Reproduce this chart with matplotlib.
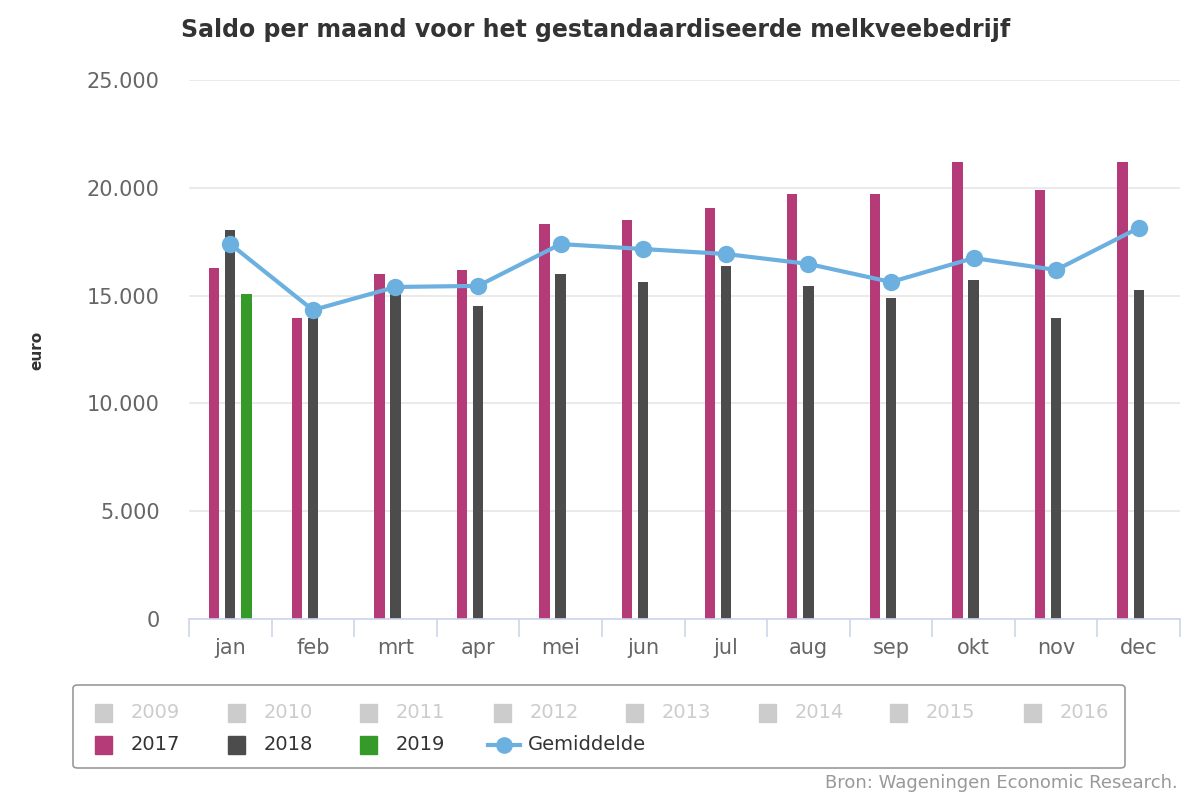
import numpy as np
import matplotlib.pyplot as plt
from matplotlib.patches import Rectangle, FancyBboxPatch
from matplotlib.lines import Line2D
from matplotlib.ticker import FuncFormatter, FixedLocator

plt.rcParams['font.family'] = ['DejaVu Sans']

months = ['jan', 'feb', 'mrt', 'apr', 'mei', 'jun', 'jul', 'aug', 'sep', 'okt', 'nov', 'dec']
saldo_2017 = [16300, 13960, 16000, 16190, 18320, 18510, 19060, 19710, 19710, 21200, 19900, 21200]
saldo_2018 = [18040, 13960, 15120, 14520, 16000, 15630, 16370, 15450, 14890, 15720, 13960, 15260]
saldo_2019 = [15070, np.nan, np.nan, np.nan, np.nan, np.nan, np.nan, np.nan, np.nan, np.nan, np.nan, np.nan]
gemiddelde = [17390, 14330, 15400, 15450, 17390, 17160, 16930, 16470, 15630, 16740, 16190, 18140]
hidden_years = ['2009', '2010', '2011', '2012', '2013', '2014', '2015', '2016']

c17 = '#b43a78'
c18 = '#4c4c4c'
c19 = '#369a2b'
cavg = '#6cb0e0'

fig = plt.figure(figsize=(12, 8), dpi=100)
ax = fig.add_axes([189 / 1200, 1 - 619 / 800, (1180 - 189) / 1200, (619 - 80) / 800])

x = np.arange(len(months))
off = 0.195
w = 0.125
ax.bar(x - off, saldo_2017, width=w, color=c17, zorder=2)
ax.bar(x, saldo_2018, width=w, color=c18, zorder=2)
ax.bar(x + off, saldo_2019, width=w, color=c19, zorder=2)
ax.plot(x, gemiddelde, color=cavg, lw=3, marker='o', ms=11.5, zorder=3)

ax.set_xlim(-0.5, len(months) - 0.5)
ax.set_ylim(0, 25000)
ax.set_yticks(np.arange(0, 25001, 5000))
ax.yaxis.set_major_formatter(FuncFormatter(lambda v, p: f'{int(v):,}'.replace(',', '.')))
ax.grid(axis='y', color='#e6e6e6', lw=1.2, zorder=0)
ax.set_axisbelow(True)
for s in ['top', 'right', 'left']:
    ax.spines[s].set_visible(False)
ax.spines['bottom'].set_color('#ccd6eb')
ax.spines['bottom'].set_linewidth(1.2)
ax.tick_params(axis='y', length=0, labelsize=15, labelcolor='#666666', pad=21)

ax.set_xticks(x)
ax.set_xticklabels(months)
ax.tick_params(axis='x', length=0, labelsize=15, labelcolor='#666666', pad=14)
ax.xaxis.set_minor_locator(FixedLocator(np.arange(-0.5, len(months), 1)))
ax.tick_params(axis='x', which='minor', length=13, color='#ccd6eb', width=1.2)

fig.text(37 / 1200, 1 - 350 / 800, 'euro', rotation=90, fontsize=11, fontweight='bold',
         color='#333333', ha='center', va='center')

fig.text(181 / 1200, 1 - 30 / 800, 'Saldo per maand voor het gestandaardiseerde melkveebedrijf',
         fontsize=17, fontweight='bold', color='#333333', va='center', ha='left')

# legend box
fig.patches.append(FancyBboxPatch((73 / 1200, 1 - 768 / 800), (1125 - 73) / 1200, (768 - 685) / 800,
                                  boxstyle='round,pad=0,rounding_size=0.004', transform=fig.transFigure,
                                  fc='white', ec='#999999', lw=1.2))
cols = [95, 228, 360, 494, 626, 759, 890, 1024]
for i, yr in enumerate(hidden_years):
    fig.patches.append(Rectangle((cols[i] / 1200, 1 - 722 / 800), 17 / 1200, 18 / 800,
                                 transform=fig.transFigure, color='#cccccc'))
    fig.text((cols[i] + 36) / 1200, 1 - 713 / 800, yr, fontsize=14, color='#cccccc', va='center')
for i, (yr, c) in enumerate([('2017', c17), ('2018', c18), ('2019', c19)]):
    fig.patches.append(Rectangle((cols[i] / 1200, 1 - 754 / 800), 17 / 1200, 18 / 800,
                                 transform=fig.transFigure, color=c))
    fig.text((cols[i] + 36) / 1200, 1 - 745 / 800, yr, fontsize=14, color='#333333', va='center')
fig.lines.append(Line2D([488 / 1200, 520 / 1200], [1 - 745 / 800, 1 - 745 / 800], transform=fig.transFigure,
                        color=cavg, lw=3))
fig.lines.append(Line2D([504 / 1200], [1 - 745 / 800], transform=fig.transFigure, color=cavg,
                        marker='o', ms=11))
fig.text(528 / 1200, 1 - 745 / 800, 'Gemiddelde', fontsize=14, color='#333333', va='center')

fig.text(1178 / 1200, 1 - 783 / 800, 'Bron: Wageningen Economic Research.', fontsize=13,
         color='#999999', ha='right', va='center')

fig.savefig('out.png', dpi=100)
